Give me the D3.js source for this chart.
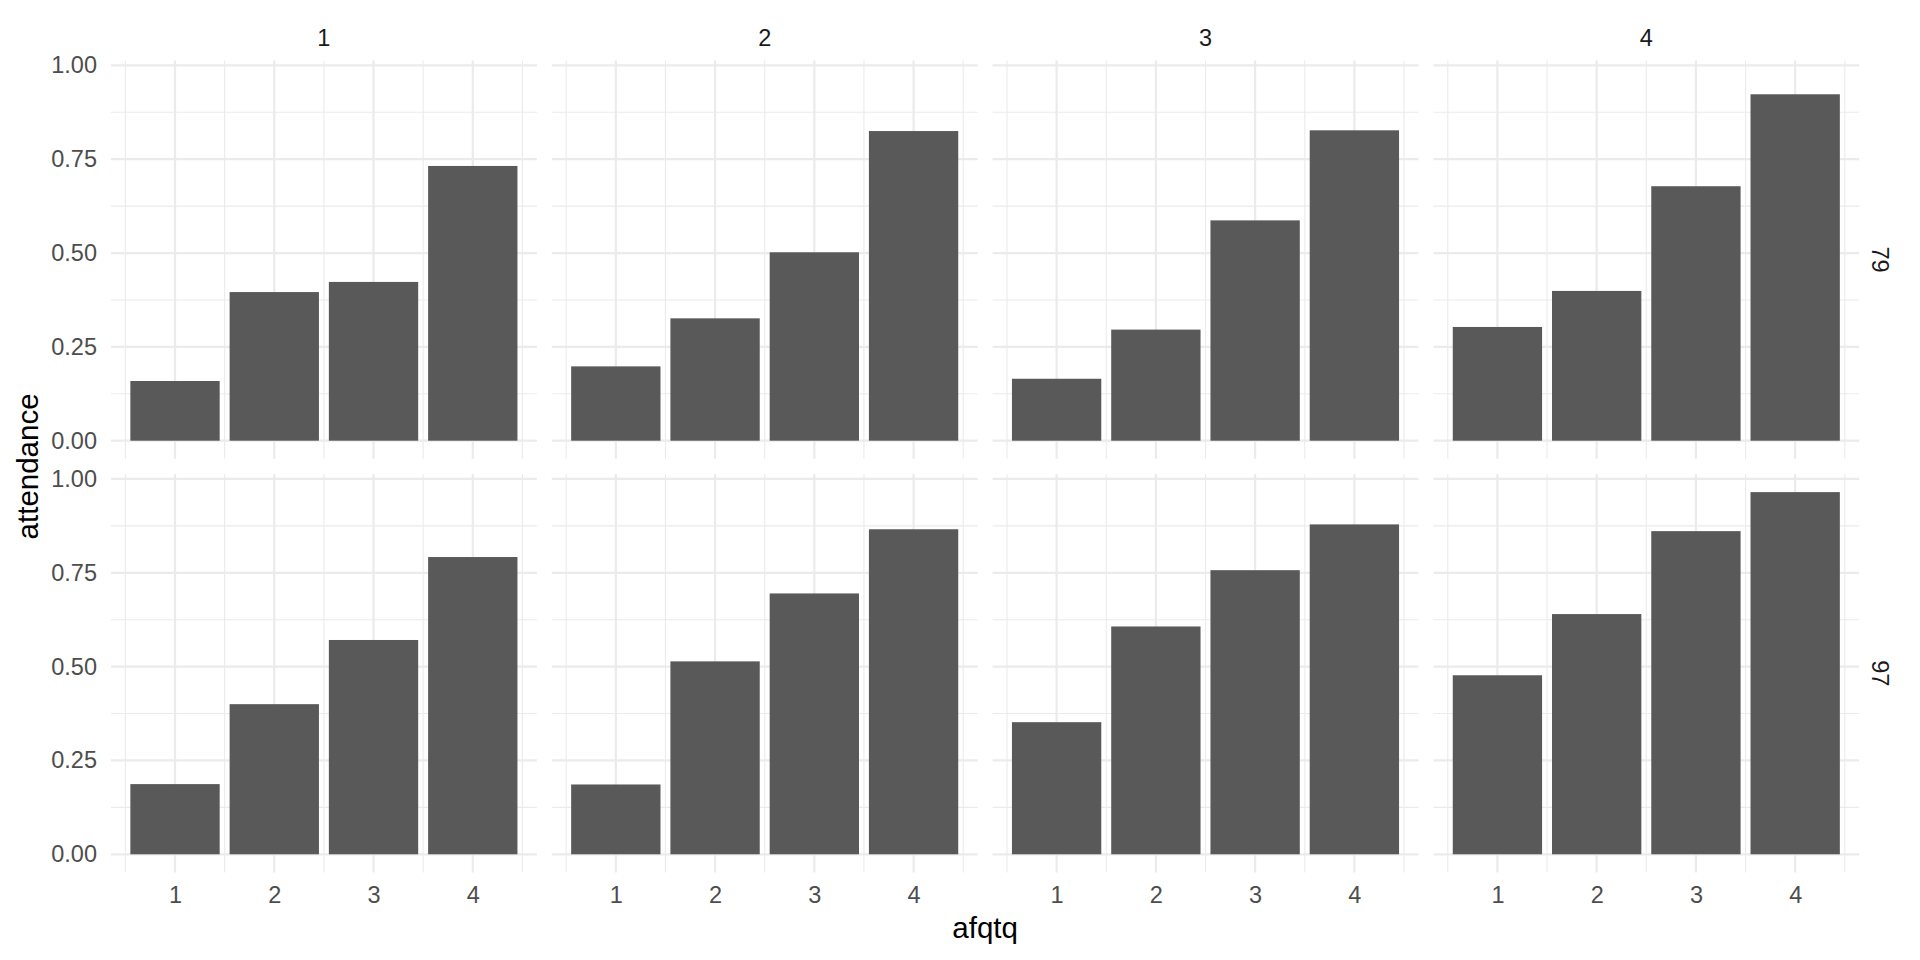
<!DOCTYPE html>
<html>
<head>
<meta charset="utf-8">
<script src="https://cdn.jsdelivr.net/npm/d3@7"></script>
<style>
  html, body { margin: 0; padding: 0; background: #ffffff; }
  svg { display: block; font-family: "Liberation Sans", Arial, Helvetica, sans-serif; }
</style>
</head>
<body>
<svg id="chart" width="1920" height="960"></svg>
<script>
// ---- data ----
const rowLabels = ["79", "97"];              // facet rows (right strip)
const colLabels = ["1", "2", "3", "4"];      // facet columns (top strip)
const afqtq = [1, 2, 3, 4];                  // x categories
const attendance79 = [
  [0.159, 0.396, 0.423, 0.732],
  [0.198, 0.326, 0.502, 0.825],
  [0.165, 0.296, 0.587, 0.827],
  [0.303, 0.399, 0.678, 0.923]
];
const attendance97 = [
  [0.187, 0.400, 0.571, 0.792],
  [0.186, 0.514, 0.695, 0.866],
  [0.352, 0.607, 0.757, 0.879],
  [0.477, 0.640, 0.861, 0.965]
];
const yTicks = [0, 0.25, 0.5, 0.75, 1];
const yMinor = [0.125, 0.375, 0.625, 0.875];
const xMinor = [0.5, 1.5, 2.5, 3.5, 4.5];
const xTitle = "afqtq";
const yTitle = "attendance";

// ---- layout ----
const svg = d3.select("#chart");
const panelLeft = 111, panelStep = 440.8, panelW = 425.8;
const rowTops = [60.4, 474.0], panelH = 398.4;
const barWidth = 0.9;

const allVals = attendance79.flat().concat(attendance97.flat());
const yMax = d3.max(allVals);
const xExp = (afqtq[afqtq.length - 1] - afqtq[0] + barWidth) * 0.05;
const x = d3.scaleLinear()
  .domain([afqtq[0] - barWidth / 2 - xExp, afqtq[afqtq.length - 1] + barWidth / 2 + xExp])
  .range([0, panelW]);
const y = d3.scaleLinear()
  .domain([0 - yMax * 0.05, yMax * 1.05])
  .range([panelH, 0]);

const grid = "#EBEBEB";
const rows = [attendance79, attendance97];

rows.forEach((rowData, r) => {
  rowData.forEach((vals, c) => {
    const g = svg.append("g")
      .attr("transform", `translate(${panelLeft + c * panelStep},${rowTops[r]})`);
    // minor grid
    g.selectAll(".hmin").data(yMinor).join("line")
      .attr("x1", 0).attr("x2", panelW)
      .attr("y1", d => y(d)).attr("y2", d => y(d))
      .attr("stroke", grid).attr("stroke-width", 1.1);
    g.selectAll(".vmin").data(xMinor).join("line")
      .attr("class", "vmin")
      .attr("y1", 0).attr("y2", panelH)
      .attr("x1", d => x(d)).attr("x2", d => x(d))
      .attr("stroke", grid).attr("stroke-width", 1.1);
    // major grid
    g.selectAll(".hmaj").data(yTicks).join("line")
      .attr("class", "hmaj")
      .attr("x1", 0).attr("x2", panelW)
      .attr("y1", d => y(d)).attr("y2", d => y(d))
      .attr("stroke", grid).attr("stroke-width", 2.2);
    g.selectAll(".vmaj").data(afqtq).join("line")
      .attr("class", "vmaj")
      .attr("y1", 0).attr("y2", panelH)
      .attr("x1", d => x(d)).attr("x2", d => x(d))
      .attr("stroke", grid).attr("stroke-width", 2.2);
    // bars
    g.selectAll(".bar").data(vals).join("rect")
      .attr("class", "bar")
      .attr("x", (d, i) => x(afqtq[i] - barWidth / 2))
      .attr("width", (d, i) => x(afqtq[i] + barWidth / 2) - x(afqtq[i] - barWidth / 2))
      .attr("y", d => y(d))
      .attr("height", d => y(0) - y(d))
      .attr("fill", "#595959");

    // y axis labels on first column
    if (c === 0) {
      const ax = g.append("g").call(
        d3.axisLeft(y).tickValues(yTicks).tickFormat(d3.format(".2f")).tickSize(0).tickPadding(14)
      );
      ax.select(".domain").remove();
      ax.selectAll("text").attr("font-size", 23.5).attr("fill", "#4D4D4D")
        .attr("font-family", "Liberation Sans, Arial, sans-serif");
    }
    // x axis labels on bottom row
    if (r === rows.length - 1) {
      const ax = g.append("g").attr("transform", `translate(0,${panelH})`).call(
        d3.axisBottom(x).tickValues(afqtq).tickFormat(d3.format("d")).tickSize(0).tickPadding(14)
      );
      ax.select(".domain").remove();
      ax.selectAll("text").attr("font-size", 23.5).attr("fill", "#4D4D4D")
        .attr("font-family", "Liberation Sans, Arial, sans-serif");
    }
    // top strip
    if (r === 0) {
      g.append("text")
        .attr("x", panelW / 2).attr("y", -14)
        .attr("text-anchor", "middle")
        .attr("font-size", 23.5).attr("fill", "#1A1A1A")
        .text(colLabels[c]);
    }
    // right strip
    if (c === colLabels.length - 1) {
      g.append("text")
        .attr("transform", `translate(${panelW + 12.6},${panelH / 2}) rotate(90)`)
        .attr("text-anchor", "middle")
        .attr("font-size", 23.5).attr("fill", "#1A1A1A")
        .text(rowLabels[r]);
    }
  });
});

// axis titles
const plotLeft = panelLeft, plotRight = panelLeft + 3 * panelStep + panelW;
svg.append("text")
  .attr("x", (plotLeft + plotRight) / 2).attr("y", 938)
  .attr("text-anchor", "middle")
  .attr("font-size", 29.5).attr("fill", "#000000")
  .text(xTitle);
svg.append("text")
  .attr("transform", `translate(37.5,${(rowTops[0] + rowTops[1] + panelH) / 2}) rotate(-90)`)
  .attr("text-anchor", "middle")
  .attr("font-size", 29.5).attr("fill", "#000000")
  .text(yTitle);
</script>
</body>
</html>
